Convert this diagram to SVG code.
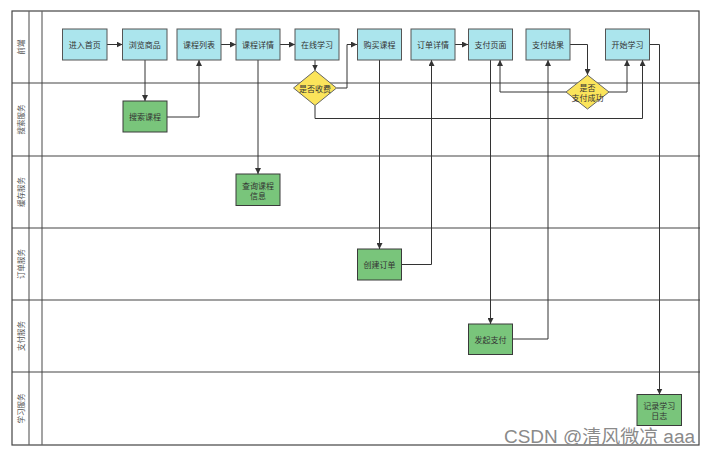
<svg xmlns="http://www.w3.org/2000/svg" width="709" height="455" viewBox="0 0 709 455">
<defs>
<marker id="arr" viewBox="0 0 10 10" refX="10" refY="5" markerWidth="6" markerHeight="6" markerUnits="userSpaceOnUse" orient="auto">
<path d="M0,0 L10,5 L0,10 z" fill="#333"/>
</marker>
<style>
.lane{fill:none;stroke:#444;stroke-width:1.2}
.col{stroke:#666;stroke-width:1.2}
.lbl{font-family:"Noto Sans CJK SC","Noto Sans",sans-serif;font-size:7.5px;fill:#555;text-anchor:middle;dominant-baseline:central}
.fe rect{fill:#abe5ed;stroke:#555;stroke-width:1}
.sv rect{fill:#79c57b;stroke:#3a3a3a;stroke-width:1}
.dm polygon{fill:#fbe45b;stroke:#666;stroke-width:1}
.t{font-family:"Noto Sans CJK SC","Noto Sans",sans-serif;font-size:8px;fill:#333;text-anchor:middle;dominant-baseline:central}
.cn path{fill:none;stroke:#333;stroke-width:1;marker-end:url(#arr)}
</style>
</defs>
<rect x="0" y="0" width="709" height="455" fill="#ffffff"/>
<g id="lanes">
<rect class="lane" x="12" y="11" width="687" height="434"/>
<line class="col" x1="29" y1="11" x2="29" y2="445"/>
<line class="col" x1="42" y1="11" x2="42" y2="445"/>
<line class="lane" x1="12" y1="83" x2="700" y2="83"/>
<line class="lane" x1="12" y1="156" x2="700" y2="156"/>
<line class="lane" x1="12" y1="228" x2="700" y2="228"/>
<line class="lane" x1="12" y1="300" x2="700" y2="300"/>
<line class="lane" x1="12" y1="372" x2="700" y2="372"/>
<text class="lbl" transform="translate(20.5,47) rotate(-90)">前端</text>
<text class="lbl" transform="translate(20.5,119.5) rotate(-90)">搜索服务</text>
<text class="lbl" transform="translate(20.5,192) rotate(-90)">缓存服务</text>
<text class="lbl" transform="translate(20.5,264) rotate(-90)">订单服务</text>
<text class="lbl" transform="translate(20.5,336) rotate(-90)">支付服务</text>
<text class="lbl" transform="translate(20.5,408.5) rotate(-90)">学习服务</text>
</g>
<g id="connectors" class="cn">
<path d="M107,44.5 H122.5"/>
<path d="M145,60 V101"/>
<path d="M167,117 H199 V60"/>
<path d="M221,44.5 H236"/>
<path d="M280,44.5 H295"/>
<path d="M258,60 V174"/>
<path d="M315,60 V70.5"/>
<path d="M336.5,88 H347 V44.5 H357"/>
<path d="M315,105.5 V118.5 H642.5 V60"/>
<path d="M379.5,60 V249"/>
<path d="M401.5,264.5 H431.5 V60"/>
<path d="M455,44.5 H468"/>
<path d="M490.5,60 V324"/>
<path d="M512.5,339 H548 V60"/>
<path d="M570,44.5 H587.5 V75"/>
<path d="M566,92 H500 V60"/>
<path d="M609,92 H627 V60"/>
<path d="M649,44.5 H659.5 V394.5"/>
</g>
<g id="n_home" class="fe"><rect x="62.5" y="29" width="44.5" height="31"/><text class="t" x="84.75" y="44.5">进入首页</text></g>
<g id="n_browse" class="fe"><rect x="122.5" y="29" width="44.5" height="31"/><text class="t" x="144.75" y="44.5">浏览商品</text></g>
<g id="n_list" class="fe"><rect x="177" y="29" width="44" height="31"/><text class="t" x="199" y="44.5">课程列表</text></g>
<g id="n_detail" class="fe"><rect x="236" y="29" width="44" height="31"/><text class="t" x="258" y="44.5">课程详情</text></g>
<g id="n_online" class="fe"><rect x="295" y="29" width="44" height="31"/><text class="t" x="317" y="44.5">在线学习</text></g>
<g id="n_buy" class="fe"><rect x="357.5" y="29" width="44" height="31"/><text class="t" x="379.5" y="44.5">购买课程</text></g>
<g id="n_order" class="fe"><rect x="411" y="29" width="44" height="31"/><text class="t" x="433" y="44.5">订单详情</text></g>
<g id="n_paypage" class="fe"><rect x="468.5" y="29" width="44" height="31"/><text class="t" x="490.5" y="44.5">支付页面</text></g>
<g id="n_payresult" class="fe"><rect x="526" y="29" width="44" height="31"/><text class="t" x="548" y="44.5">支付结果</text></g>
<g id="n_start" class="fe"><rect x="605.5" y="29" width="44" height="31"/><text class="t" x="627.5" y="44.5">开始学习</text></g>
<g id="n_search" class="sv"><rect x="123" y="101" width="44" height="31"/><text class="t" x="145" y="116.5">搜索课程</text></g>
<g id="n_query" class="sv"><rect x="236" y="174" width="44" height="31.5"/><text class="t" x="258" y="185">查询课程</text><text class="t" x="258" y="195.5">信息</text></g>
<g id="n_create" class="sv"><rect x="357.5" y="249" width="44" height="31"/><text class="t" x="379.5" y="264.5">创建订单</text></g>
<g id="n_pay" class="sv"><rect x="468.5" y="324" width="44" height="30.5"/><text class="t" x="490.5" y="339">发起支付</text></g>
<g id="n_log" class="sv"><rect x="637" y="394.5" width="44.5" height="31"/><text class="t" x="659.25" y="405">记录学习</text><text class="t" x="659.25" y="415.5">日志</text></g>
<g id="d_fee" class="dm"><polygon points="315,70.5 336.5,88 315,105.5 293.5,88"/><text class="t" x="315" y="88.5">是否收费</text></g>
<g id="d_paid" class="dm"><polygon points="587.5,75 609,92 587.5,109 566,92"/><text class="t" x="587.5" y="87">是否</text><text class="t" x="587.5" y="97.5">支付成功</text></g>
<text x="504" y="443" font-family="'Liberation Sans','Noto Sans CJK SC',sans-serif" font-size="18" fill="#8a8a8a" textLength="191" lengthAdjust="spacingAndGlyphs">CSDN @清风微凉 aaa</text>
</svg>
